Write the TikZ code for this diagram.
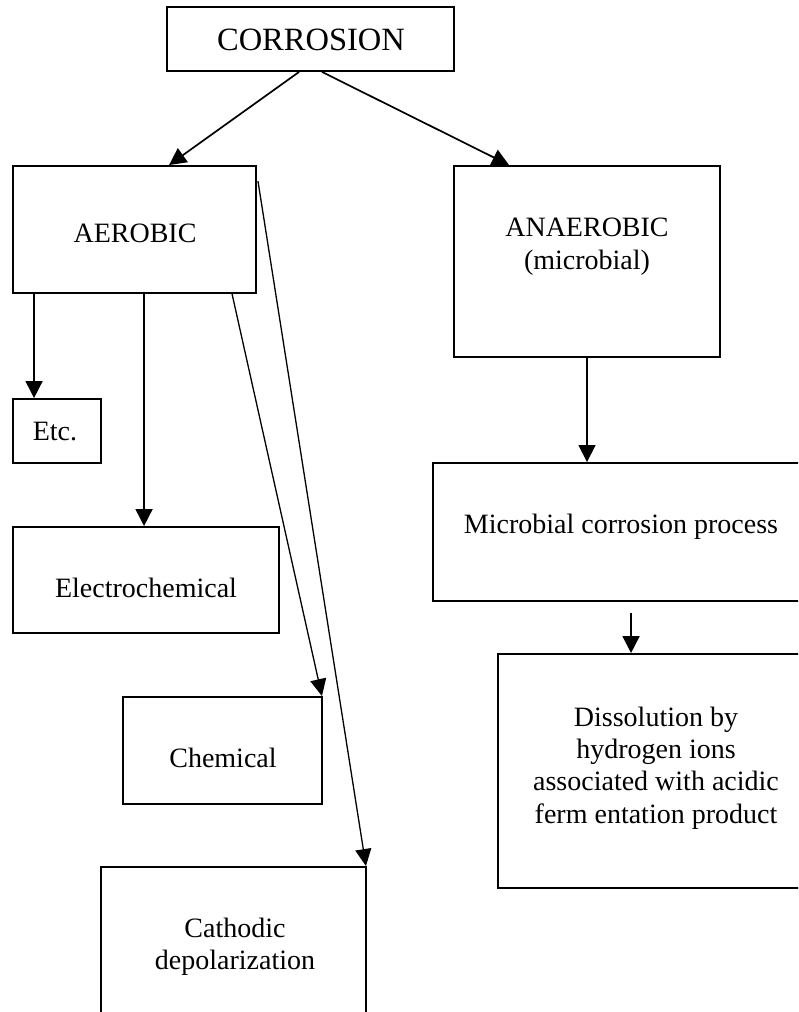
\documentclass[tikz,border=0pt]{standalone}
\usepackage{fontspec}
\setmainfont{Liberation Serif}
\usetikzlibrary{arrows.meta,calc}

\tikzset{
  frame/.style={draw=black, line width=1.9pt, rectangle, inner sep=0pt, fill=none},
  lbl/.style={anchor=base, inner sep=0pt, font=\fontsize{28}{32}\selectfont},
  title/.style={anchor=base, inner sep=0pt, font=\fontsize{32.5}{36}\selectfont},
  arr/.style={draw=black, line width=1.7pt, -{Triangle[length=17pt,width=17pt]}},
  thinarr/.style={draw=black, line width=1.3pt, -{Triangle[length=17pt,width=16pt]}}
}

\begin{document}
\begin{tikzpicture}[x=1pt, y=-1pt]
  \useasboundingbox (0,0) rectangle (798,1012);
  \fill[white] (0,0) rectangle (798,1012);
  \clip (0,0) rectangle (798,1012);

  % boxes
  \node[frame, minimum width=287pt, minimum height=64pt]  (corr)  at (310.5,39) {};
  \node[frame, minimum width=243pt, minimum height=127pt] (aer)   at (134.5,229.5) {};
  \node[frame, minimum width=266pt, minimum height=191pt] (ana)   at (587,261.5) {};
  \node[frame, minimum width=88pt,  minimum height=64pt]  (etc)   at (57,431) {};
  \node[frame, minimum width=266pt, minimum height=106pt] (elec)  at (146,580) {};
  \node[frame, minimum width=199pt, minimum height=107pt] (chem)  at (222.5,750.5) {};
  \node[frame, minimum width=265pt, minimum height=163pt] (cath)  at (233.5,948.5) {};
  \node[frame, minimum width=377pt, minimum height=138pt] (micro) at (621.5,532) {};
  \node[frame, minimum width=316pt, minimum height=234pt] (diss)  at (656,771) {};

  % labels
  \node[title] (tcorr) at (311,50) {CORROSION};
  \node[lbl] (taer)  at (135,242) {AEROBIC};
  \node[lbl] (tana1) at (587,236) {ANAEROBIC};
  \node[lbl] (tana2) at (587,269) {(microbial)};
  \node[lbl] (tetc)  at (55,440) {Etc.};
  \node[lbl] (telec) at (146,597) {Electrochemical};
  \node[lbl] (tchem) at (223,767) {Chemical};
  \node[lbl] (tcat1) at (235,937) {Cathodic};
  \node[lbl] (tcat2) at (235,969) {depolarization};
  \node[lbl] (tmic)  at (621,533) {Microbial corrosion process};
  \node[lbl] (tdis1) at (656,726) {Dissolution by};
  \node[lbl] (tdis2) at (656,758) {hydrogen ions};
  \node[lbl] (tdis3) at (656,790) {associated with acidic};
  \node[lbl] (tdis4) at (656,823) {ferm entation product};

  % connectors
  \draw[arr] ($(corr.south west)+(133,0)$) -- ($(aer.north west)+(157,0)$);
  \draw[arr] ($(corr.south west)+(156,0)$) -- ($(ana.north west)+(56,0)$);
  \draw[arr] ($(aer.south west)+(22,0)$) -- ($(etc.north west)+(22,0)$);
  \draw[arr] ($(aer.south west)+(132,0)$) -- ($(elec.north west)+(132,0)$);
  \draw[thinarr] ($(aer.south west)+(220,0)$) -- ($(chem.north east)+(-1,0)$);
  \draw[thinarr] ($(aer.north east)+(1,16)$) -- ($(cath.north east)+(-1,0)$);
  \draw[arr] (ana.south) -- (ana.south |- micro.north);
  \coordinate (mstub) at ($(micro.south west)+(199,11)$);
  \draw[arr] (mstub) -- (mstub |- diss.north);
\end{tikzpicture}
\end{document}
